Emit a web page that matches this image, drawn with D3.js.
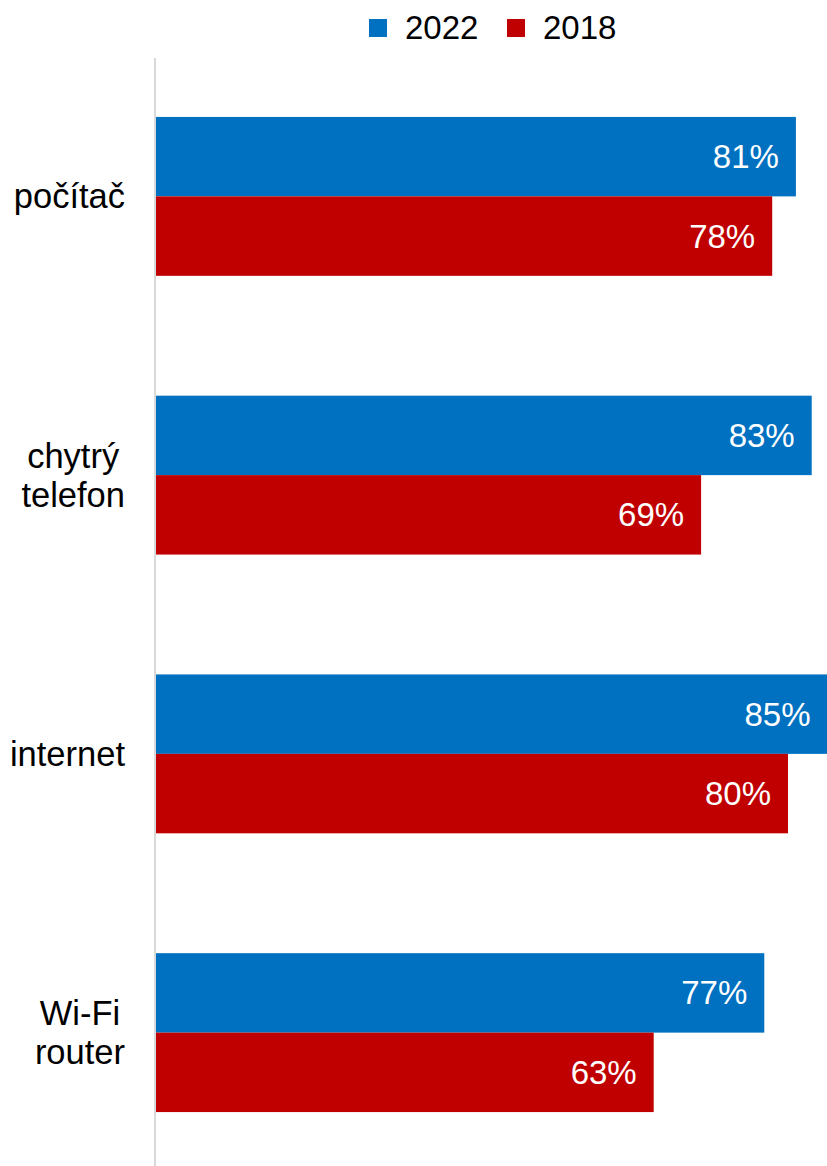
<!DOCTYPE html>
<html>
<head>
<meta charset="utf-8">
<script src="https://cdn.jsdelivr.net/npm/d3@7/dist/d3.min.js"></script>
<style>
  html, body { margin: 0; padding: 0; background: #fff; }
  svg { display: block; font-family: "Liberation Sans", Arial, sans-serif; }
</style>
</head>
<body>
<svg id="chart" width="827" height="1166"></svg>
<script>
const categories = ["počítač", "chytrý\ntelefon", "internet", "Wi-Fi\nrouter"];
const seriesNames = ["2022", "2018"];
const values2022 = [81, 83, 85, 77];
const values2018 = [78, 69, 80, 63];
const colors = ["#0070C0", "#C00000"];

const svg = d3.select("#chart");
const W = 827, H = 1166;

const x = d3.scaleLinear().domain([0, 100]).range([156, 156 + 790]);
const y = d3.scaleBand().domain(categories).range([57, 1172]).paddingInner(0.43).paddingOuter(0.215);
const ySub = d3.scaleBand().domain(seriesNames).range([0, y.bandwidth()]);

const data = categories.map((c, i) => ({cat: c, vals: [values2022[i], values2018[i]]}));

// axis line
svg.append("line")
  .attr("x1", 155).attr("x2", 155)
  .attr("y1", 58).attr("y2", H)
  .attr("stroke", "#d9d9d9").attr("stroke-width", 2);

const g = svg.selectAll("g.cat").data(data).enter().append("g")
  .attr("class", "cat")
  .attr("transform", d => `translate(0,${y(d.cat)})`);

seriesNames.forEach((s, si) => {
  g.append("rect")
    .attr("x", x(0))
    .attr("y", ySub(s))
    .attr("width", d => x(d.vals[si]) - x(0))
    .attr("height", ySub.bandwidth())
    .attr("fill", colors[si]);
  g.append("text")
    .attr("x", d => x(d.vals[si]) - 17)
    .attr("y", ySub(s) + ySub.bandwidth() / 2)
    .attr("dy", "0.35em")
    .attr("text-anchor", "end")
    .attr("fill", "#fff")
    .attr("font-size", 33)
    .text(d => d.vals[si] + "%");
});

// category labels: block right-aligned at 125, lines centered within block
data.forEach(d => {
  const lines = d.cat.split("\n");
  const cy = y(d.cat) + y.bandwidth() / 2;
  const lh = 39;
  const t = svg.append("text").attr("font-size", 34.5).attr("fill", "#000");
  const spans = lines.map((l, i) => t.append("tspan").text(l)
      .attr("y", cy + (i - (lines.length - 1) / 2) * lh).attr("dy", "0.35em"));
  const widths = spans.map(sp => sp.node().getComputedTextLength());
  const maxW = d3.max(widths);
  const center = 125 - maxW / 2;
  spans.forEach(sp => sp.attr("x", center).attr("text-anchor", "middle"));
});

// legend
const legend = [{name: "2022", sx: 369, tx: 405}, {name: "2018", sx: 507, tx: 543}];
legend.forEach((l, i) => {
  svg.append("rect").attr("x", l.sx).attr("y", 19).attr("width", 18).attr("height", 18).attr("fill", colors[i]);
  svg.append("text").attr("x", l.tx).attr("y", 39).attr("font-size", 33).attr("fill", "#000").text(l.name);
});
</script>
</body>
</html>
